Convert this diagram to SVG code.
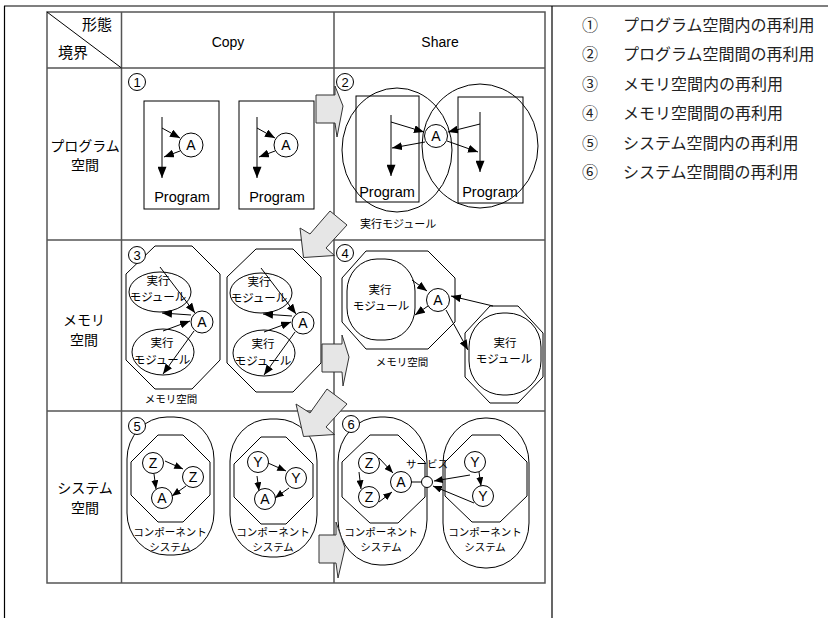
<svg xmlns="http://www.w3.org/2000/svg" width="828" height="618" viewBox="0 0 828 618">
<defs>
<marker id="ah" viewBox="0 0 10 8" refX="10" refY="4" markerWidth="10" markerHeight="8" markerUnits="userSpaceOnUse" orient="auto"><path d="M0,0L10,4L0,8z" fill="#000"/></marker>
<marker id="ahs" viewBox="0 0 10 8" refX="10" refY="4" markerWidth="9" markerHeight="7" markerUnits="userSpaceOnUse" orient="auto"><path d="M0,0L10,4L0,8z" fill="#000"/></marker>
<marker id="ahb" viewBox="0 0 10 8" refX="10" refY="4" markerWidth="12" markerHeight="9" markerUnits="userSpaceOnUse" orient="auto"><path d="M0,0L10,4L0,8z" fill="#000"/></marker>
</defs>
<style>
.frame{stroke:#000;stroke-width:1.2;fill:none}
.grid{stroke:#555;stroke-width:1.5;fill:none}
.sh{stroke:#000;stroke-width:1;fill:none}
.shw{stroke:#000;stroke-width:1;fill:#fff}
.ln{stroke:#000;stroke-width:1;fill:none;marker-end:url(#ah)}
.lns{stroke:#000;stroke-width:1;fill:none;marker-end:url(#ahs)}
.lnb{stroke:#000;stroke-width:1;fill:none;marker-end:url(#ahb)}
.ba{fill:#e6e6e6;stroke:#333;stroke-width:1;stroke-linejoin:miter}
.en{font-family:"Liberation Sans",Arial,sans-serif;fill:#000;text-anchor:middle}
.jp{font-family:"Noto Sans CJK JP",sans-serif;fill:#000;text-anchor:middle}
.lg{font-family:"Noto Sans CJK JP",serif;font-size:16px;fill:#222}
</style>
<rect width="828" height="618" fill="#fff"/>

<g id="frame">
<line x1="4" y1="6" x2="828" y2="6" class="frame"/>
<line x1="4.5" y1="6" x2="4.5" y2="618" class="frame"/>
<line x1="552" y1="6" x2="552" y2="618" class="frame"/>
</g>

<g id="table">
<rect x="47" y="12" width="498" height="571" class="grid"/>
<line x1="47" y1="68" x2="545" y2="68" class="grid"/>
<line x1="47" y1="240" x2="545" y2="240" class="grid"/>
<line x1="47" y1="411" x2="545" y2="411" class="grid"/>
<line x1="121.5" y1="12" x2="121.5" y2="583" class="grid"/>
<line x1="334" y1="12" x2="334" y2="583" class="grid"/>
<line x1="47" y1="12" x2="121.5" y2="68" class="sh"/>
<text x="97" y="30" class="jp" font-size="15">形態</text>
<text x="73" y="58" class="jp" font-size="15">境界</text>
<text x="228" y="47" class="en" font-size="14">Copy</text>
<text x="440" y="47" class="en" font-size="14">Share</text>
<text x="85" y="151" class="jp" font-size="14">プログラム</text>
<text x="85" y="170" class="jp" font-size="14">空間</text>
<text x="84" y="325" class="jp" font-size="14">メモリ</text>
<text x="84" y="345" class="jp" font-size="14">空間</text>
<text x="85" y="493" class="jp" font-size="14">システム</text>
<text x="85" y="513" class="jp" font-size="14">空間</text>
</g>

<g id="cell1">
<g id="prog1" transform="translate(144,101)">
<rect width="75" height="108" class="sh"/>
<line x1="18" y1="16" x2="18" y2="77" class="lnb"/>
<line x1="18" y1="27" x2="36" y2="37" class="ln"/>
<circle cx="47" cy="44" r="12" class="shw"/>
<text x="47" y="49" class="en" font-size="14">A</text>
<line x1="36" y1="50" x2="20" y2="56" class="ln"/>
<text x="38" y="101" class="en" font-size="14.5">Program</text>
</g>
<g id="prog2" transform="translate(239,101)">
<rect width="75" height="108" class="sh"/>
<line x1="18" y1="16" x2="18" y2="77" class="lnb"/>
<line x1="18" y1="27" x2="36" y2="37" class="ln"/>
<circle cx="47" cy="44" r="12" class="shw"/>
<text x="47" y="49" class="en" font-size="14">A</text>
<line x1="36" y1="50" x2="20" y2="56" class="ln"/>
<text x="38" y="101" class="en" font-size="14.5">Program</text>
</g>
<circle cx="137" cy="82" r="8.5" class="shw"/>
<text x="137" y="87" class="en" font-size="13">1</text>
</g>

<g id="cell2">
<ellipse cx="397" cy="150" rx="55" ry="62" class="sh"/>
<ellipse cx="480" cy="146" rx="58" ry="62" class="sh"/>
<rect x="356" y="96" width="63" height="106" class="sh"/>
<rect x="458" y="97" width="65" height="106" class="sh"/>
<line x1="391" y1="115" x2="391" y2="176" class="lnb"/>
<line x1="480" y1="112" x2="480" y2="172" class="lnb"/>
<line x1="391" y1="122" x2="424" y2="132" class="ln"/>
<line x1="425" y1="142" x2="392" y2="148" class="ln"/>
<line x1="480" y1="124" x2="448" y2="132" class="ln"/>
<line x1="447" y1="141" x2="478" y2="152" class="ln"/>
<circle cx="436" cy="136" r="11.5" class="shw"/>
<text x="436" y="141" class="en" font-size="14">A</text>
<text x="387" y="197" class="en" font-size="14.5">Program</text>
<text x="490" y="197" class="en" font-size="14.5">Program</text>
<text x="360" y="228" class="jp" font-size="11" style="text-anchor:start">実行モジュール</text>
<circle cx="345" cy="82" r="8.5" class="shw"/>
<text x="345" y="87" class="en" font-size="13">2</text>
</g>

<g id="cell3">
<g id="mem1">
<polygon points="155,246 192,246 220,274 220,360 192,389 155,389 126,360 126,274" class="shw"/>
<ellipse cx="160" cy="292" rx="31" ry="20" class="sh"/>
<ellipse cx="163" cy="352" rx="31" ry="23" class="sh"/>
<text x="158" y="285" class="jp" font-size="11.5">実行</text>
<text x="158" y="301" class="jp" font-size="11.5">モジュール</text>
<text x="162" y="347" class="jp" font-size="11.5">実行</text>
<text x="162" y="364" class="jp" font-size="11.5">モジュール</text>
<line x1="160" y1="267" x2="195" y2="313" class="ln"/>
<line x1="191" y1="315" x2="162" y2="313" class="ln"/>
<line x1="163" y1="331" x2="190" y2="321" class="ln"/>
<line x1="194" y1="331" x2="163" y2="374" class="ln"/>
<circle cx="202" cy="322" r="11" class="shw"/>
<text x="202" y="327" class="en" font-size="14">A</text>
</g>
<g id="mem2" transform="translate(101,1)">
<polygon points="155,248 192,248 220,276 220,362 192,391 155,391 126,362 126,276" class="shw"/>
<ellipse cx="160" cy="292" rx="31" ry="20" class="sh"/>
<ellipse cx="163" cy="352" rx="31" ry="23" class="sh"/>
<text x="158" y="285" class="jp" font-size="11.5">実行</text>
<text x="158" y="301" class="jp" font-size="11.5">モジュール</text>
<text x="162" y="347" class="jp" font-size="11.5">実行</text>
<text x="162" y="364" class="jp" font-size="11.5">モジュール</text>
<line x1="160" y1="267" x2="195" y2="313" class="ln"/>
<line x1="191" y1="315" x2="162" y2="313" class="ln"/>
<line x1="163" y1="331" x2="190" y2="321" class="ln"/>
<line x1="194" y1="331" x2="163" y2="374" class="ln"/>
<circle cx="202" cy="322" r="11" class="shw"/>
<text x="202" y="327" class="en" font-size="14">A</text>
</g>
<text x="171" y="403" class="jp" font-size="10.5">メモリ空間</text>
<circle cx="137" cy="255" r="8.5" class="shw"/>
<text x="137" y="260" class="en" font-size="13">3</text>
</g>

<g id="cell4">
<polygon points="366,251 428,251 455,278 455,322 428,349 366,349 342,322 342,278" class="shw"/>
<rect x="347" y="259" width="68" height="81" rx="30" ry="32" class="sh"/>
<text x="380" y="294" class="jp" font-size="11.5">実行</text>
<text x="381" y="310" class="jp" font-size="11.5">モジュール</text>
<polygon points="490,306 518,306 543,333 543,377 518,403 490,403 465,377 465,333" class="shw"/>
<rect x="469" y="313" width="72" height="82" rx="34" ry="34" class="sh"/>
<text x="505" y="347" class="jp" font-size="11.5">実行</text>
<text x="504" y="363" class="jp" font-size="11.5">モジュール</text>
<line x1="412" y1="280" x2="427" y2="291" class="ln"/>
<line x1="428" y1="306" x2="415" y2="315" class="ln"/>
<line x1="493" y1="306" x2="451" y2="296" class="ln"/>
<line x1="446" y1="310" x2="468" y2="350" class="ln"/>
<circle cx="438" cy="300" r="11.5" class="shw"/>
<text x="438" y="305" class="en" font-size="14">A</text>
<text x="402" y="366" class="jp" font-size="10.5">メモリ空間</text>
<circle cx="345" cy="253" r="8.5" class="shw"/>
<text x="345" y="258" class="en" font-size="13">4</text>
</g>

<g id="cell5">
<g id="sys1">
<rect x="127" y="417" width="87" height="138" rx="40" ry="42" class="shw"/>
<polygon points="158,435 183,435 210,462 210,495 183,522 158,522 131,495 131,462" class="sh"/>
<line x1="165" y1="461" x2="183" y2="469" class="lns"/>
<line x1="154" y1="474" x2="156" y2="489" class="lns"/>
<line x1="186" y1="486" x2="172" y2="496" class="lns"/>
<circle cx="153" cy="463" r="10.5" class="shw"/>
<text x="153" y="468" class="en" font-size="14">Z</text>
<circle cx="193" cy="477" r="10.5" class="shw"/>
<text x="193" y="482" class="en" font-size="14">Z</text>
<circle cx="162" cy="498" r="10.5" class="shw"/>
<text x="162" y="503" class="en" font-size="14">A</text>
<text x="170" y="536" class="jp" font-size="10.5">コンポーネント</text>
<text x="170" y="551" class="jp" font-size="10.5">システム</text>
</g>
<g id="sys2" transform="translate(103,2)">
<rect x="127" y="417" width="87" height="138" rx="40" ry="42" class="shw"/>
<polygon points="158,435 183,435 210,462 210,495 183,522 158,522 131,495 131,462" class="sh"/>
<line x1="165" y1="461" x2="183" y2="469" class="lns"/>
<line x1="154" y1="474" x2="156" y2="489" class="lns"/>
<line x1="186" y1="486" x2="172" y2="496" class="lns"/>
<circle cx="155" cy="460" r="10.5" class="shw"/>
<text x="155" y="465" class="en" font-size="14">Y</text>
<circle cx="193" cy="476" r="10.5" class="shw"/>
<text x="193" y="481" class="en" font-size="14">Y</text>
<circle cx="162" cy="497" r="10.5" class="shw"/>
<text x="162" y="502" class="en" font-size="14">A</text>
<text x="170" y="534" class="jp" font-size="10.5">コンポーネント</text>
<text x="170" y="549" class="jp" font-size="10.5">システム</text>
</g>
<circle cx="137" cy="426" r="8.5" class="shw"/>
<text x="137" y="431" class="en" font-size="13">5</text>
</g>

<g id="cell6">
<g id="sys3">
<rect x="338" y="417" width="89" height="148" rx="42" ry="45" class="shw"/>
<polygon points="370,435 398,435 425,462 425,497 398,523 370,523 342,497 342,462" class="sh"/>
<line x1="379" y1="458" x2="393" y2="473" class="lns"/>
<line x1="359" y1="472" x2="361" y2="489" class="lns"/>
<line x1="379" y1="502" x2="392" y2="492" class="lns"/>
<circle cx="369" cy="463" r="10.5" class="shw"/>
<text x="369" y="468" class="en" font-size="14">Z</text>
<circle cx="369" cy="497" r="10.5" class="shw"/>
<text x="369" y="502" class="en" font-size="14">Z</text>
<circle cx="401" cy="482" r="10.5" class="shw"/>
<text x="401" y="487" class="en" font-size="14">A</text>
<text x="381" y="536" class="jp" font-size="10.5">コンポーネント</text>
<text x="381" y="551" class="jp" font-size="10.5">システム</text>
</g>
<g id="sys4">
<rect x="443" y="418" width="86" height="150" rx="42" ry="45" class="shw"/>
<polygon points="472,435 500,435 527,462 527,496 500,522 472,522 445,496 445,462" class="sh"/>
<line x1="479" y1="472" x2="481" y2="486" class="lns"/>
<line x1="470" y1="475" x2="434" y2="481" class="lns"/>
<line x1="474" y1="503" x2="433" y2="486" class="lns"/>
<circle cx="475" cy="462" r="10.5" class="shw"/>
<text x="475" y="467" class="en" font-size="14">Y</text>
<circle cx="483" cy="496" r="10.5" class="shw"/>
<text x="483" y="501" class="en" font-size="14">Y</text>
<text x="485" y="536" class="jp" font-size="10.5">コンポーネント</text>
<text x="485" y="551" class="jp" font-size="10.5">システム</text>
</g>
<line x1="411" y1="482" x2="422" y2="482" class="sh"/>
<circle cx="427" cy="482" r="5.5" class="shw"/>
<text x="427" y="468" class="jp" font-size="10.5">サービス</text>
<circle cx="351" cy="424" r="8.5" class="shw"/>
<text x="351" y="429" class="en" font-size="13">6</text>
</g>

<g id="connectors">
<polygon points="316,95 335,95 335,86 343,106 337,137 335,123 316,123" class="ba"/>
<polygon points="322,344 342,344 342,335 349,357 343,386 342,372 322,372" class="ba"/>
<polygon points="319,535 336,535 336,522 345,548 338,578 336,563 319,563" class="ba"/>
<polygon points="330,211 347,225 326,248 334.5,255.5 303.5,257.5 300,228 310,234" class="ba"/>
<polygon points="327,389 347,404 326,427 334.5,434.5 303.5,436.5 296,404 310,413" class="ba"/>
</g>

<g id="legend">
<text x="582" y="31" class="lg">①</text><text x="623" y="31" class="lg">プログラム空間内の再利用</text>
<text x="582" y="60" class="lg">②</text><text x="623" y="60" class="lg">プログラム空間間の再利用</text>
<text x="582" y="90" class="lg">③</text><text x="623" y="90" class="lg">メモリ空間内の再利用</text>
<text x="582" y="119" class="lg">④</text><text x="623" y="119" class="lg">メモリ空間間の再利用</text>
<text x="582" y="149" class="lg">⑤</text><text x="623" y="149" class="lg">システム空間内の再利用</text>
<text x="582" y="178" class="lg">⑥</text><text x="623" y="178" class="lg">システム空間間の再利用</text>
</g>
</svg>
